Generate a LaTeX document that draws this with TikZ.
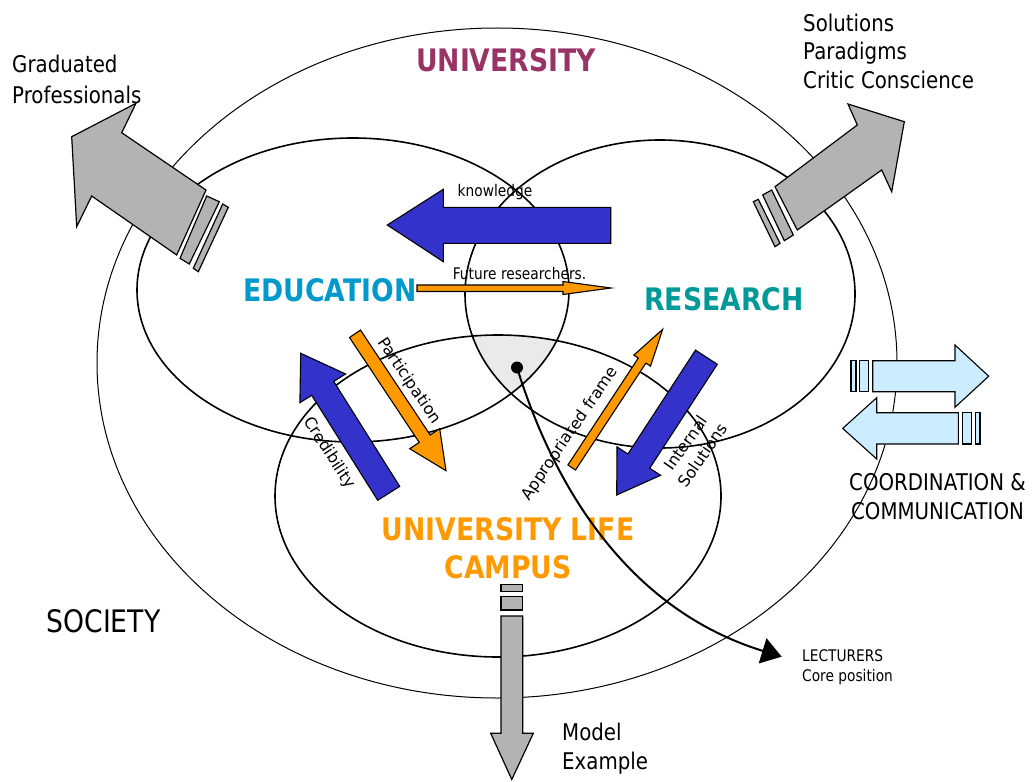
\documentclass[tikz,border=0pt]{standalone}
\usepackage{fontspec}
\setmainfont{DejaVu Sans}[FakeStretch=0.86]
\newfontfamily\rotfont{DejaVu Sans}
\usetikzlibrary{arrows.meta}
\definecolor{univpurple}{HTML}{993366}
\definecolor{educblue}{HTML}{0099CC}
\definecolor{resteal}{HTML}{009999}
\definecolor{campusorange}{HTML}{FF9900}
\definecolor{arrowblue}{HTML}{3333CC}
\definecolor{arrowgray}{HTML}{B3B3B3}
\definecolor{commblue}{HTML}{CCECFF}
\definecolor{coregray}{HTML}{EAEAEA}
\begin{document}
\begin{tikzpicture}[x=1pt,y=-1pt,
  innerring/.style={line width=1.6pt},
  outerring/.style={line width=1pt},
  grayarrow/.style={draw,fill=arrowgray,line width=1.2pt},
  bluearrow/.style={draw,fill=arrowblue,line width=1.1pt},
  orangearrow/.style={draw,fill=campusorange,line width=1.1pt},
  commarrow/.style={draw,fill=commblue,line width=1.1pt},
  headtext/.style={font=\fontsize{31}{36}\selectfont\bfseries,anchor=base,inner sep=0pt},
  sidetext/.style={font=\fontsize{23}{29}\selectfont,inner sep=0pt},
  smalltext/.style={font=\fontsize{16}{20}\selectfont,inner sep=0pt},
  tilted/.style={font=\rotfont\fontsize{16}{20.5}\selectfont,inner sep=0pt}]
\useasboundingbox (0,0) rectangle (1035,781);

\begin{scope}
  \clip (353,290) ellipse [x radius=216pt,y radius=152pt];
  \clip (660,294) ellipse [x radius=195pt,y radius=154pt];
  \fill[coregray] (498,496) ellipse [x radius=223pt,y radius=161pt];
\end{scope}
\draw[outerring] (497,363) ellipse [x radius=400pt,y radius=335pt];
\draw[innerring] (353,290) ellipse [x radius=216pt,y radius=152pt];
\draw[innerring] (660,294) ellipse [x radius=195pt,y radius=154pt];
\draw[innerring] (498,496) ellipse [x radius=223pt,y radius=161pt];

\draw[grayarrow] (71.7,136.7) -- (136,103.3) -- (121.7,132.7) -- (206,190) -- (176.7,255) -- (91.7,196) -- (76.7,226.7) -- cycle;
\draw[grayarrow] (206.7,196) -- (219.3,201.7) -- (189.3,264) -- (180,258.3) -- cycle;
\draw[grayarrow] (222.7,204) -- (228.3,207.3) -- (198.3,271.7) -- (193.3,268.3) -- cycle;

\draw[grayarrow] (904.3,121.7) -- (848,104) -- (857.3,125) -- (775,186.7) -- (797.3,230) -- (881.7,170) -- (891.7,191.7) -- cycle;
\draw[grayarrow] (771.7,190) -- (762.7,195) -- (784.3,240.7) -- (793.3,235) -- cycle;
\draw[grayarrow] (758.3,199.3) -- (753.3,201.7) -- (775,246.7) -- (780,243.3) -- cycle;

\draw[grayarrow] (501,616) -- (522.7,616) -- (522.7,733.3) -- (533.3,733.3) -- (511.8,779.5) -- (490.7,733.3) -- (501,733.3) -- cycle;
\draw[grayarrow] (501,596.7) rectangle (522.7,610);
\draw[grayarrow] (501,584.3) rectangle (522.7,591.7);

\draw[bluearrow] (387.3,225) -- (443.3,189.3) -- (443.3,207.3) -- (610.7,207.3) -- (610.7,243.3) -- (443.3,243.3) -- (443.3,261.7) -- cycle;
\draw[orangearrow] (417,285) -- (563,285) -- (563,281.5) -- (611,288) -- (563,294.5) -- (563,291.5) -- (417,291.5) -- cycle;

\draw[orangearrow] (349.5,337.5) -- (360.5,330.1) -- (430.2,435) -- (439.7,428.7) -- (446,470.7) -- (409.7,448.7) -- (419.2,442.4) -- cycle;
\draw[bluearrow] (399.7,486.4) -- (333.7,381.4) -- (345.6,374) -- (300.7,353.3) -- (299.9,402.7) -- (311.7,395.3) -- (377.7,500.3) -- cycle;
\draw[orangearrow] (567.9,465) -- (638.3,358.1) -- (633.8,355.1) -- (662.7,329.3) -- (650.5,366.1) -- (645.9,363.1) -- (575.5,470) -- cycle;
\draw[bluearrow] (695.5,350.1) -- (717.3,364.3) -- (649.7,468.2) -- (660.6,475.3) -- (616.7,495) -- (617,446.9) -- (627.9,454) -- cycle;

\draw[commarrow] (872.7,360.7) -- (955,360.7) -- (955,345) -- (988.7,376.2) -- (955,407.3) -- (955,391.7) -- (872.7,391.7) -- cycle;
\draw[commarrow] (859.3,360.7) rectangle (868.3,391.7);
\draw[commarrow] (851,360.7) rectangle (856,391.7);
\draw[commarrow] (958.3,412.7) -- (958.3,444) -- (876.7,444) -- (876.7,459) -- (842.7,428.4) -- (876.7,397.7) -- (876.7,412.7) -- cycle;
\draw[commarrow] (962.7,412.7) rectangle (971.7,444);
\draw[commarrow] (975.7,412.7) rectangle (980,444);

\node[headtext,text=univpurple] (univ) at (506,72) {UNIVERSITY};
\node[headtext,text=educblue] (educ) at (330,301) {EDUCATION};
\node[headtext,text=resteal] (res) at (724,310) {RESEARCH};
\node[headtext,text=campusorange] (life) at (508,540) {UNIVERSITY LIFE};
\node[headtext,text=campusorange] (campus) at (508,578) {CAMPUS};

\node[sidetext,font=\fontsize{31}{36}\selectfont,anchor=base] (society) at (103.5,632) {SOCIETY};
\node[sidetext,font=\fontsize{23}{31}\selectfont,anchor=north west,align=left] (grad) at (12,54.5) {Graduated\\Professionals};
\node[sidetext,font=\fontsize{23}{28.5}\selectfont,anchor=north west,align=left] (sols) at (803,13.5) {Solutions\\Paradigms\\Critic Conscience};
\node[sidetext,anchor=north,align=center] (coord) at (937.5,473) {COORDINATION \&\\COMMUNICATION};
\node[sidetext,anchor=north west,align=left] (model) at (562,722.5) {Model\\Example};
\node[smalltext,anchor=north west,align=left] (lect) at (802,649.3) {LECTURERS\\Core position};

\node[smalltext,anchor=base] (know) at (495,196) {knowledge};
\node[smalltext,anchor=base] (future) at (519.5,279) {Future researchers.};
\node[tilted,rotate=-56] (partic) at (409,381) {Participation};
\node[tilted,rotate=-57] (cred) at (329,453) {Credibility};
\node[tilted,rotate=55.6] (approp) at (570,434) {Appropriated frame};
\node[tilted,rotate=55,align=center] (internal) at (694,449) {Internal\\Solutions};

\node[circle,fill=black,inner sep=0pt,minimum size=12pt] (core) at (517,367.5) {};
\coordinate (lecttip) at (781.7,656.7);
\draw[line width=2pt,-{Triangle[length=20pt,width=26pt]}] (core.center) .. controls (555,490) and (630,610) .. (lecttip);
\end{tikzpicture}
\end{document}
